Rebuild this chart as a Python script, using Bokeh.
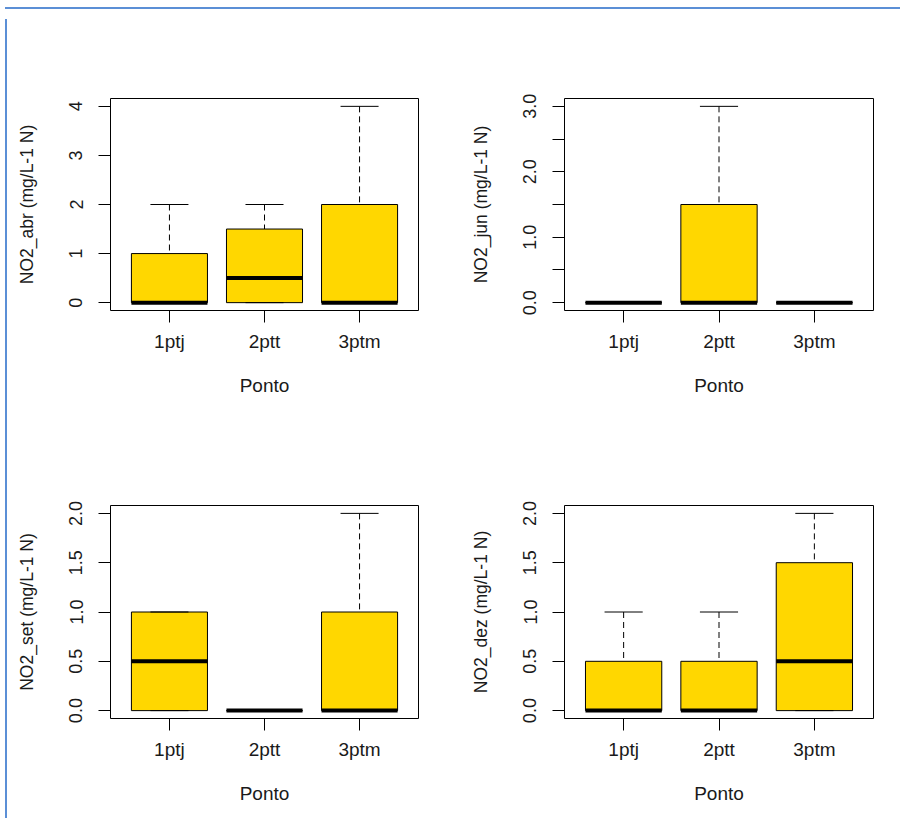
from bokeh.plotting import figure
from bokeh.models import Range1d, FixedTicker, Div, Spacer, ColumnDataSource
from bokeh.layouts import column, row
from bokeh.embed import file_html
from bokeh.resources import INLINE

# ---------------- data ----------------
categories = ["1ptj", "2ptt", "3ptm"]
x_pos = [1, 2, 3]
x_label = "Ponto"

abr_label = "NO2_abr (mg/L-1 N)"
abr_min = [0, 0, 0]
abr_q1 = [0, 0, 0]
abr_med = [0, 0.5, 0]
abr_q3 = [1, 1.5, 2]
abr_max = [2, 2, 4]
abr_ticks = [0, 1, 2, 3, 4]
abr_tick_labels = ["0", "1", "2", "3", "4"]

jun_label = "NO2_jun (mg/L-1 N)"
jun_min = [0, 0, 0]
jun_q1 = [0, 0, 0]
jun_med = [0, 0, 0]
jun_q3 = [0, 1.5, 0]
jun_max = [0, 3, 0]
jun_ticks = [0, 0.5, 1.0, 1.5, 2.0, 2.5, 3.0]
jun_tick_labels = ["0.0", "", "1.0", "", "2.0", "", "3.0"]

set_label = "NO2_set (mg/L-1 N)"
set_min = [0, 0, 0]
set_q1 = [0, 0, 0]
set_med = [0.5, 0, 0]
set_q3 = [1, 0, 1]
set_max = [1, 0, 2]
set_ticks = [0, 0.5, 1.0, 1.5, 2.0]
set_tick_labels = ["0.0", "0.5", "1.0", "1.5", "2.0"]

dez_label = "NO2_dez (mg/L-1 N)"
dez_min = [0, 0, 0]
dez_q1 = [0, 0, 0]
dez_med = [0, 0, 0.5]
dez_q3 = [0.5, 0.5, 1.5]
dez_max = [1, 1, 2]
dez_ticks = [0, 0.5, 1.0, 1.5, 2.0]
dez_tick_labels = ["0.0", "0.5", "1.0", "1.5", "2.0"]

# ---------------- style ----------------
FONT = "Liberation Sans"
TEXT = "#1a1a1a"
GOLD = "#FFD700"
BLUE = "#5b8fd6"
BOX_W = 0.8
STAPLE_W = 0.4


def make_panel(ylab, mins, q1s, meds, q3s, maxs, ticks, tick_labels,
               w, h, bl, br, bt, bb):
    lo, hi = min(mins), max(maxs)
    pad = 0.04 * (hi - lo)
    p = figure(width=w, height=h,
               x_range=Range1d(0.38, 3.62),
               y_range=Range1d(lo - pad, hi + pad),
               output_backend="svg", toolbar_location=None,
               min_border_left=bl, min_border_right=br,
               min_border_top=bt, min_border_bottom=bb)
    p.grid.visible = False
    p.outline_line_color = "black"
    p.outline_line_width = 1
    p.background_fill_color = "white"
    p.border_fill_color = "white"

    hw = BOX_W / 2
    sw = STAPLE_W / 2
    src = ColumnDataSource(dict(
        x=x_pos, lo=mins, q1=q1s, med=meds, q3=q3s, hi=maxs,
        xl=[x - hw for x in x_pos], xr=[x + hw for x in x_pos],
        sl=[x - sw for x in x_pos], sr=[x + sw for x in x_pos],
    ))
    # whiskers (drawn from the extreme towards the box)
    p.segment(x0="x", y0="hi", x1="x", y1="q3", source=src,
              line_color="black", line_width=1, line_dash="6 4")
    p.segment(x0="x", y0="lo", x1="x", y1="q1", source=src,
              line_color="black", line_width=1, line_dash="6 4")
    # boxes
    p.vbar(x="x", width=BOX_W, bottom="q1", top="q3", source=src,
           fill_color=GOLD, line_color="black", line_width=1)
    # medians
    p.segment(x0="xl", y0="med", x1="xr", y1="med", source=src,
              line_color="black", line_width=4, line_cap="butt")
    # staples
    p.segment(x0="sl", y0="hi", x1="sr", y1="hi", source=src,
              line_color="black", line_width=1)
    p.segment(x0="sl", y0="lo", x1="sr", y1="lo", source=src,
              line_color="black", line_width=1)

    # x axis
    xa = p.xaxis[0]
    xa.ticker = FixedTicker(ticks=x_pos)
    xa.major_label_overrides = {x: c for x, c in zip(x_pos, categories)}
    xa.axis_line_color = None
    xa.major_tick_out = 12
    xa.major_tick_in = 0
    xa.minor_tick_line_color = None
    xa.major_tick_line_color = "black"
    xa.major_label_text_font = FONT
    xa.major_label_text_font_size = "19px"
    xa.major_label_text_color = TEXT
    xa.major_label_standoff = 8
    xa.axis_label = x_label
    xa.axis_label_text_font = FONT
    xa.axis_label_text_font_size = "19px"
    xa.axis_label_text_font_style = "normal"
    xa.axis_label_text_color = TEXT
    xa.axis_label_standoff = 20

    # y axis
    ya = p.yaxis[0]
    ya.ticker = FixedTicker(ticks=ticks)
    ya.major_label_overrides = {float(t): l for t, l in zip(ticks, tick_labels)}
    ya.axis_line_color = None
    ya.major_tick_out = 12
    ya.major_tick_in = 0
    ya.minor_tick_line_color = None
    ya.major_tick_line_color = "black"
    ya.major_label_orientation = "vertical"
    ya.major_label_text_font = FONT
    ya.major_label_text_font_size = "18px"
    ya.major_label_text_color = TEXT
    ya.major_label_standoff = 16
    ya.axis_label = ylab
    ya.axis_label_text_font = FONT
    ya.axis_label_text_font_size = "17.5px"
    ya.axis_label_text_font_style = "normal"
    ya.axis_label_text_color = TEXT
    ya.axis_label_standoff = 30
    return p


f1 = make_panel(abr_label, abr_min, abr_q1, abr_med, abr_q3, abr_max,
                abr_ticks, abr_tick_labels, 445, 399, 98, 39, 84, 103)
f2 = make_panel(jun_label, jun_min, jun_q1, jun_med, jun_q3, jun_max,
                jun_ticks, jun_tick_labels, 448, 399, 107, 32, 84, 103)
f3 = make_panel(set_label, set_min, set_q1, set_med, set_q3, set_max,
                set_ticks, set_tick_labels, 445, 400, 98, 39, 92, 95)
f4 = make_panel(dez_label, dez_min, dez_q1, dez_med, dez_q3, dez_max,
                dez_ticks, dez_tick_labels, 448, 400, 107, 32, 92, 95)

top_line = Div(text="", width=895, height=2,
               styles={"background-color": BLUE})
left_line = Div(text="", width=2, height=799,
                styles={"background-color": BLUE})
grid = column(row(f1, f2), row(f3, f4))
layout = column(Spacer(width=895, height=2), top_line, row(left_line, grid))

open("out.html", "w").write(file_html(layout, INLINE))
